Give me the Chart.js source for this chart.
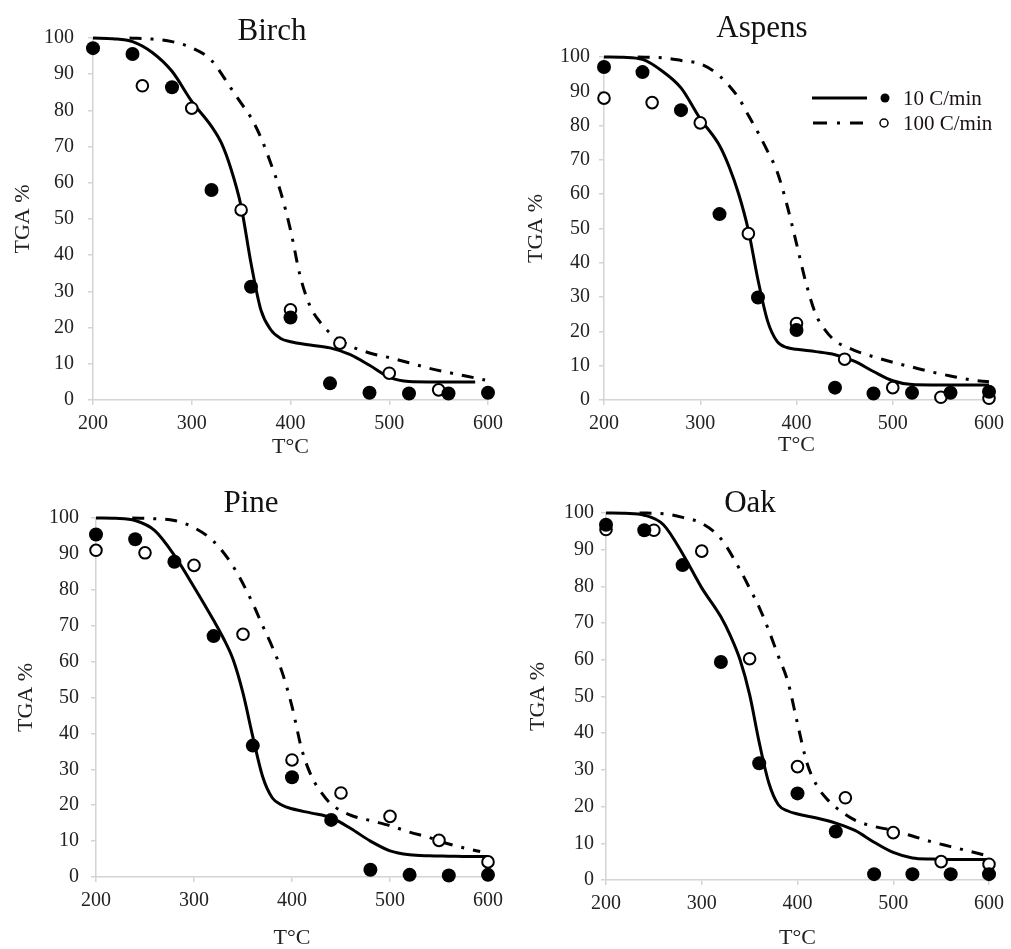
<!DOCTYPE html>
<html>
<head>
<meta charset="utf-8">
<script src="https://cdn.jsdelivr.net/npm/chart.js@4"></script>
<style>
  body { margin:0; background:#fff; width:1011px; height:949px; position:relative; overflow:hidden; }
  .pane { position:absolute; }
  .ttl { position:absolute; font-family:"Liberation Serif", serif; font-size:31px; color:#111; transform:translate(-50%,-50%); white-space:nowrap; }
  #legend { position:absolute; left:800px; top:82px; }
</style>
</head>
<body>
<div class="pane" style="left:0;top:0;width:510px;height:470px"><canvas id="c0"></canvas></div>
<div class="pane" style="left:505px;top:0;width:506px;height:470px"><canvas id="c1"></canvas></div>
<div class="pane" style="left:0;top:470px;width:510px;height:479px"><canvas id="c2"></canvas></div>
<div class="pane" style="left:505px;top:470px;width:506px;height:479px"><canvas id="c3"></canvas></div>
<div class="ttl" style="left:272px;top:30px">Birch</div>
<div class="ttl" style="left:762px;top:27px">Aspens</div>
<div class="ttl" style="left:251px;top:502px">Pine</div>
<div class="ttl" style="left:750px;top:502px">Oak</div>
<svg id="legend" width="211" height="56">
  <line x1="12" y1="16" x2="67" y2="16" stroke="#000" stroke-width="3"/>
  <circle cx="85" cy="16" r="4.5" fill="#000"/>
  <text x="103" y="23" font-family="Liberation Serif" font-size="21" fill="#1a1010">10 C/min</text>
  <line x1="13" y1="41" x2="63" y2="41" stroke="#000" stroke-width="3" stroke-dasharray="14 10 3 10"/>
  <circle cx="84" cy="41" r="4" fill="#fff" stroke="#000" stroke-width="1.5"/>
  <text x="103" y="48" font-family="Liberation Serif" font-size="21" fill="#1a1010">100 C/min</text>
</svg>
<script>
// measured points
const tSlow = [200, 240, 280, 320, 360, 400, 440, 480, 520, 560, 600];   // 10 C/min
const tFast = [200, 250, 300, 350, 400, 450, 500, 550, 600];              // 100 C/min

const birchSlow  = [97.2, 95.6, 86.4, 58, 31.3, 22.8, 4.6, 2, 1.8, 1.8, 2];
const birchFast  = [null, 86.8, 80.6, 52.5, 24.9, 15.7, 7.4, 2.8, null];
const aspenSlow  = [97.1, 95.6, 84.5, 54.2, 29.9, 20.4, 3.6, 1.9, 2.1, 2.1, 2.4];
const aspenFast  = [88, 86.7, 80.8, 48.5, 22.3, 11.9, 3.6, 0.8, 0.5];
const pineSlow   = [95.4, 94.1, 87.8, 67.1, 36.6, 27.8, 15.9, 2.0, 0.6, 0.4, 0.6];
const pineFast   = [91, 90.3, 86.8, 67.6, 32.6, 23.4, 16.9, 10.2, 4.2];
const oakSlow    = [96.8, 95.3, 85.8, 59.4, 31.8, 23.6, 13.2, 1.6, 1.6, 1.6, 1.6];
const oakFast    = [95.5, 95.3, 89.6, 60.3, 30.9, 22.4, 12.9, 5, 4.3];

// model curves
const fitT = [200, 220, 240, 260, 280, 300, 320, 330, 340, 350, 360, 370, 380, 390, 400, 420, 440, 460, 480, 500, 520, 540, 560, 580, 600];
const birchFitT = [200, 220, 240, 260, 280, 300, 320, 330, 340, 350, 360, 370, 380, 390, 400, 420, 440, 460, 480, 500, 520, 540, 560, 587];
const birchFit  = [100, 99.8, 99, 96, 90.8, 82.5, 75.6, 71, 63.6, 53.5, 37.8, 24.9, 19.4, 17, 16.1, 15.2, 14.4, 12.6, 9.6, 6.3, 5.1, 5, 5, 5];
const aspenFit  = [100, 99.9, 99.3, 96, 91, 82, 74.2, 68, 60, 49.5, 35, 23, 17, 15.3, 14.8, 14.1, 13.2, 11.3, 8.3, 5.6, 4.5, 4.4, 4.4, 4.4, 4.4];
const pineFit   = [100, 99.9, 99.3, 96.5, 89.6, 80.8, 71.5, 66.5, 60.5, 51.2, 39.1, 28, 22, 20, 19, 17.8, 16.5, 13.5, 10, 7.3, 6.2, 5.9, 5.8, 5.7, 5.7];
const oakFit    = [100, 99.9, 99.4, 96.8, 88.9, 79.6, 71.7, 66.5, 60, 50.5, 37.5, 26.5, 20.5, 18.8, 18, 16.9, 15.5, 13.5, 10.3, 7.5, 6, 5.7, 5.6, 5.6, 5.6];

const birchFastFitT = [237, 260, 280, 300, 320, 340, 350, 360, 370, 380, 390, 400, 410, 420, 430, 440, 460, 480, 500, 520, 540, 560, 580, 597];
const birchFastFit  = [100, 99.7, 99, 97.3, 93.8, 86, 82, 78, 72.5, 65.4, 57.5, 47, 34, 25.8, 21.5, 18.5, 15, 13, 11.7, 10.3, 8.8, 7.6, 6.5, 5.5];
const aspenFastFitT = [235, 260, 280, 300, 320, 340, 350, 360, 370, 380, 390, 400, 410, 420, 430, 440, 460, 480, 500, 520, 540, 560, 580, 600];
const aspenFastFit  = [100, 99.8, 99, 98, 94.5, 88, 83, 78, 72.5, 66.5, 57, 45.6, 34, 25, 20.3, 17.3, 14.5, 12.6, 11, 9.6, 8.2, 7, 5.9, 5.3];
const pineFastFitT  = [237, 260, 280, 300, 320, 340, 360, 370, 380, 390, 400, 410, 420, 430, 440, 460, 480, 500, 520, 540, 560, 580, 592];
const pineFastFit   = [100, 99.8, 99.3, 97.3, 93.5, 86.5, 76.2, 70, 64, 57, 47.5, 35.5, 28, 23.5, 20.3, 17.2, 15.7, 14.3, 12.5, 11, 9.2, 7.8, 7.1];
const oakFastFitT   = [235, 260, 280, 300, 320, 340, 350, 360, 370, 380, 390, 400, 410, 420, 430, 440, 460, 480, 500, 520, 540, 560, 580, 595];
const oakFastFit    = [100, 99.8, 98.8, 97.2, 93, 84.5, 79.5, 74.3, 68, 61, 54, 42.6, 31.8, 25.8, 22.3, 19.8, 16.3, 14.6, 13.5, 12, 10.4, 9.1, 7.8, 6.8];

const xTicks = [200, 300, 400, 500, 600];
const yTicks = [0, 10, 20, 30, 40, 50, 60, 70, 80, 90, 100];

const pts = (xs, ys) => xs.map((x, i) => ({ x, y: ys[i] }));

// layout per pane: padding, axis box sizes, title offsets
const panes = [
  { id:'c0', slow:birchSlow, fast:birchFast, fit:pts(birchFitT, birchFit), fastFit:pts(birchFastFitT, birchFastFit),
    pad:{top:38, right:10, left:0, bottom:0}, yW:93, xH:70, yTitlePad:10, xTitlePad:10, yTickPad:14 },
  { id:'c1', slow:aspenSlow, fast:aspenFast, fit:pts(fitT, aspenFit), fastFit:pts(aspenFastFitT, aspenFastFit),
    pad:{top:57, right:18, left:0, bottom:0}, yW:99, xH:70, yTitlePad:18, xTitlePad:12, yTickPad:9 },
  { id:'c2', slow:pineSlow, fast:pineFast, fit:pts(fitT, pineFit), fastFit:pts(pineFastFitT, pineFastFit),
    pad:{top:48, right:12, left:0, bottom:0}, yW:96, xH:72, yTitlePad:13, xTitlePad:-2, yTickPad:12 },
  { id:'c3', slow:oakSlow, fast:oakFast, fit:pts(fitT, oakFit), fastFit:pts(oakFastFitT, oakFastFit),
    pad:{top:43, right:19, left:0, bottom:0}, yW:101, xH:69, yTitlePad:20, xTitlePad:-2, yTickPad:7 }
];

const serif = 'Liberation Serif';
const axisGrey = '#d4d4d4';

panes.forEach(p => {
  new Chart(document.getElementById(p.id), {
    type: 'scatter',
    data: { datasets: [
      { data: pts(tSlow, p.slow), pointRadius:7, pointHoverRadius:7, backgroundColor:'#000', borderColor:'#000', borderWidth:0, order:0, clip:false },
      { data: pts(tFast, p.fast), pointRadius:5.8, pointHoverRadius:5.8, backgroundColor:'#fff', borderColor:'#000', borderWidth:2, order:0, clip:false },
      { data: p.fit, showLine:true, pointRadius:0, borderColor:'#000', borderWidth:3, cubicInterpolationMode:'monotone', order:1, clip:false },
      { data: p.fastFit, showLine:true, pointRadius:0, borderColor:'#000', borderWidth:3, borderDash:[12, 9, 3, 9], cubicInterpolationMode:'monotone', order:1, clip:false }
    ]},
    options: {
      responsive:true, maintainAspectRatio:false, animation:false,
      layout:{ padding:p.pad },
      plugins:{ legend:{display:false}, tooltip:{enabled:false} },
      scales:{
        x:{ type:'linear', min:200, max:600,
          afterFit: s => { s.height = p.xH; },
          afterBuildTicks: s => { s.ticks = xTicks.map(v => ({ value:v })); },
          grid:{ drawOnChartArea:false, color:axisGrey, tickLength:5, lineWidth:1.5 },
          border:{ color:axisGrey, width:1.5 },
          ticks:{ color:'#222', padding:7, maxRotation:0, font:{ family:serif, size:20 } },
          title:{ display:true, text:'T°C', color:'#222', padding:{top:0, bottom:p.xTitlePad}, font:{ family:serif, size:22 } } },
        y:{ min:0, max:100,
          afterFit: s => { s.width = p.yW; },
          afterBuildTicks: s => { s.ticks = yTicks.map(v => ({ value:v })); },
          grid:{ drawOnChartArea:false, color:axisGrey, tickLength:5, lineWidth:1.5 },
          border:{ color:axisGrey, width:1.5 },
          ticks:{ color:'#222', padding:p.yTickPad, font:{ family:serif, size:20 } },
          title:{ display:true, text:'TGA %', color:'#222', padding:{top:p.yTitlePad, bottom:0}, font:{ family:serif, size:22 } } }
      }
    }
  });
});
</script>
</body>
</html>
